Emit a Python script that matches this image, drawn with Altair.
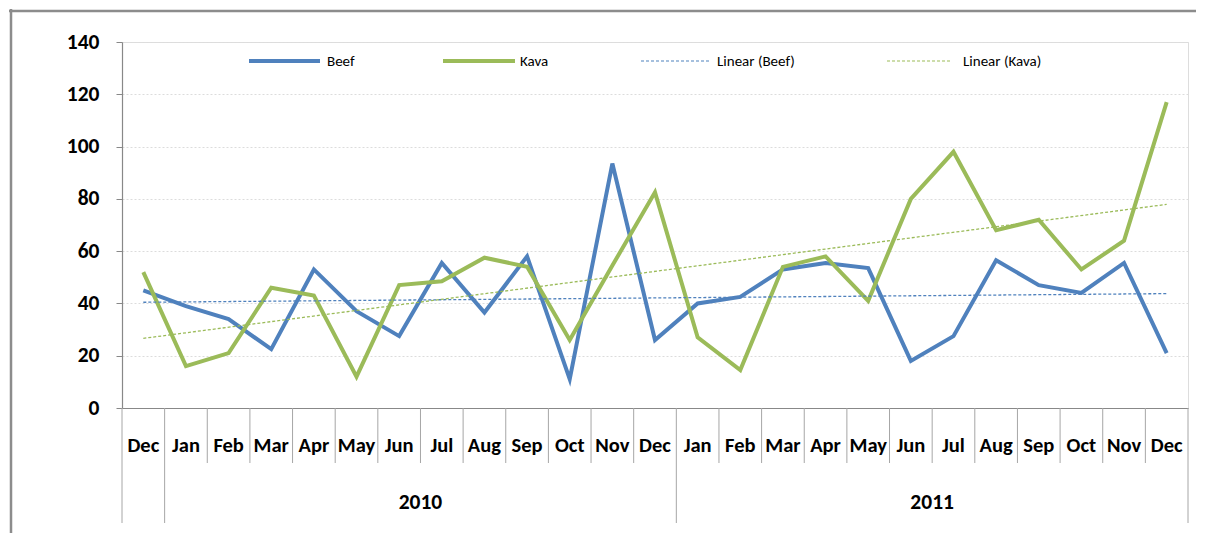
import altair as alt
import pandas as pd

months = ["Dec", "Jan", "Feb", "Mar", "Apr", "May", "Jun", "Jul", "Aug", "Sep", "Oct", "Nov", "Dec",
          "Jan", "Feb", "Mar", "Apr", "May", "Jun", "Jul", "Aug", "Sep", "Oct", "Nov", "Dec"]
years = ["2010", "2011"]
beef = [45, 39, 34, 22.5, 53, 37, 27.5, 55.5, 36.5, 58, 11, 93.5, 26,
        40, 42.5, 53, 55.5, 53.5, 18, 27.5, 56.5, 47, 44, 55.5, 21]
kava = [52, 16, 21, 46, 43, 12, 47, 48.5, 57.5, 54, 26, 54.5, 82.5,
        27, 14.5, 54, 58, 41, 80, 98, 68, 72, 53, 64, 117]
series_names = ["Beef", "Kava"]
trend_names = ["Linear (Beef)", "Linear (Kava)"]
colors = ["#4F81BD", "#9BBB59"]

FONT = "Carlito, Calibri, Lato, sans-serif"
W, H = 1066, 366

rows = []
for i, m in enumerate(months):
    rows.append({"idx": i + 0.5, "series": "Beef", "value": beef[i]})
    rows.append({"idx": i + 0.5, "series": "Kava", "value": kava[i]})
df = pd.DataFrame(rows)

xscale = alt.Scale(domain=[0, len(months)], nice=False, zero=False)
yscale = alt.Scale(domain=[0, 140], nice=False)
cscale = alt.Scale(domain=series_names, range=colors)

base = alt.Chart(df)

lines = base.mark_line(strokeWidth=4, strokeJoin="miter").encode(
    x=alt.X("idx:Q", scale=xscale,
            axis=alt.Axis(labels=False, ticks=False, grid=False, title=None,
                          domainColor="#888888", domainWidth=1.2)),
    y=alt.Y("value:Q", scale=yscale,
            axis=alt.Axis(values=list(range(0, 141, 20)), title=None, labelFont=FONT,
                          labelFontSize=21.5, labelFontWeight="bold", labelColor="#000000",
                          labelPadding=17, tickSize=6, tickColor="#888888",
                          domainColor="#888888", domainWidth=1.2,
                          gridColor="#dcdcdc", gridDash=[2, 2], gridWidth=1)),
    color=alt.Color("series:N", scale=cscale, legend=None),
    detail="series:N",
)

trend = base.transform_regression("idx", "value", groupby=["series"]).mark_line(
    strokeWidth=1.3, strokeDash=[3, 2]
).encode(
    x=alt.X("idx:Q", scale=xscale),
    y=alt.Y("value:Q", scale=yscale),
    color=alt.Color("series:N", scale=cscale, legend=None),
)

# x-axis category labels and separators
mdf = pd.DataFrame({"idx": [i + 0.5 for i in range(len(months))], "month": months})
month_text = alt.Chart(mdf).mark_text(font=FONT, fontSize=20.5, fontWeight="bold",
                                       baseline="middle", color="#000000").encode(
    x=alt.X("idx:Q", scale=xscale), y=alt.value(H + 38), text="month:N")

year_start = [1, 13]
year_bounds = [0, 1, 13, len(months)]
sep_df = pd.DataFrame({"b": [b for b in range(len(months) + 1) if b not in year_bounds]})
month_sep = alt.Chart(sep_df).mark_rule(color="#a6a6a6", strokeWidth=1).encode(
    x=alt.X("b:Q", scale=xscale), y=alt.value(H), y2=alt.value(H + 55))
ysep_df = pd.DataFrame({"b": year_bounds})
year_sep = alt.Chart(ysep_df).mark_rule(color="#a6a6a6", strokeWidth=1).encode(
    x=alt.X("b:Q", scale=xscale), y=alt.value(H), y2=alt.value(H + 115))
ydf = pd.DataFrame({"mid": [(year_start[0] + year_start[1]) / 2, (year_start[1] + len(months)) / 2],
                    "year": years})
year_text = alt.Chart(ydf).mark_text(font=FONT, fontSize=21.5, fontWeight="bold",
                                     baseline="middle", color="#000000").encode(
    x=alt.X("mid:Q", scale=xscale), y=alt.value(H + 95), text="year:N")

# custom legend (pixel positions within plot area)
leg_labels = series_names + trend_names
leg_x0 = [127, 321, 519, 765]
leg_x1 = [198, 393, 588, 830]
leg_tx = [205, 398, 595, 841]
leg_col = colors + colors
ldf = pd.DataFrame({"label": leg_labels, "x0": leg_x0, "x1": leg_x1, "tx": leg_tx,
                    "col": leg_col, "solid": [True, True, False, False]})
leg_solid = alt.Chart(ldf).transform_filter("datum.solid").mark_rule(strokeWidth=4).encode(
    x=alt.X("x0:Q", scale=None), x2="x1:Q", y=alt.value(19),
    color=alt.Color("col:N", scale=None))
leg_dash = alt.Chart(ldf).transform_filter("!datum.solid").mark_rule(strokeWidth=1.2, strokeDash=[3, 2]).encode(
    x=alt.X("x0:Q", scale=None), x2="x1:Q", y=alt.value(19),
    color=alt.Color("col:N", scale=None))
leg_text = alt.Chart(ldf).mark_text(font=FONT, fontSize=15, align="left", baseline="middle",
                                    color="#000000").encode(
    x=alt.X("tx:Q", scale=None), y=alt.value(19), text="label:N")

# chart frame: top and left edges only
one = pd.DataFrame({"k": [0]})
frame_top = alt.Chart(one).mark_rule(color="#8c8c8c", strokeWidth=2.5).encode(
    x=alt.value(-113), x2=alt.value(W + 8), y=alt.value(-31))
frame_left = alt.Chart(one).mark_rule(color="#8c8c8c", strokeWidth=2.5).encode(
    x=alt.value(-111), y=alt.value(-33), y2=alt.value(H + 125))

chart = alt.layer(
    frame_top, frame_left, lines, trend, month_sep, year_sep, month_text, year_text,
    leg_solid, leg_dash, leg_text
).properties(
    width=W, height=H,
    autosize=alt.AutoSizeParams(type="none"),
    padding={"left": 114, "top": 34, "right": 12, "bottom": 130},
).configure_view(strokeWidth=0).configure(background="white")

chart.save("out.html", embed_options={"renderer": "svg", "actions": False})
